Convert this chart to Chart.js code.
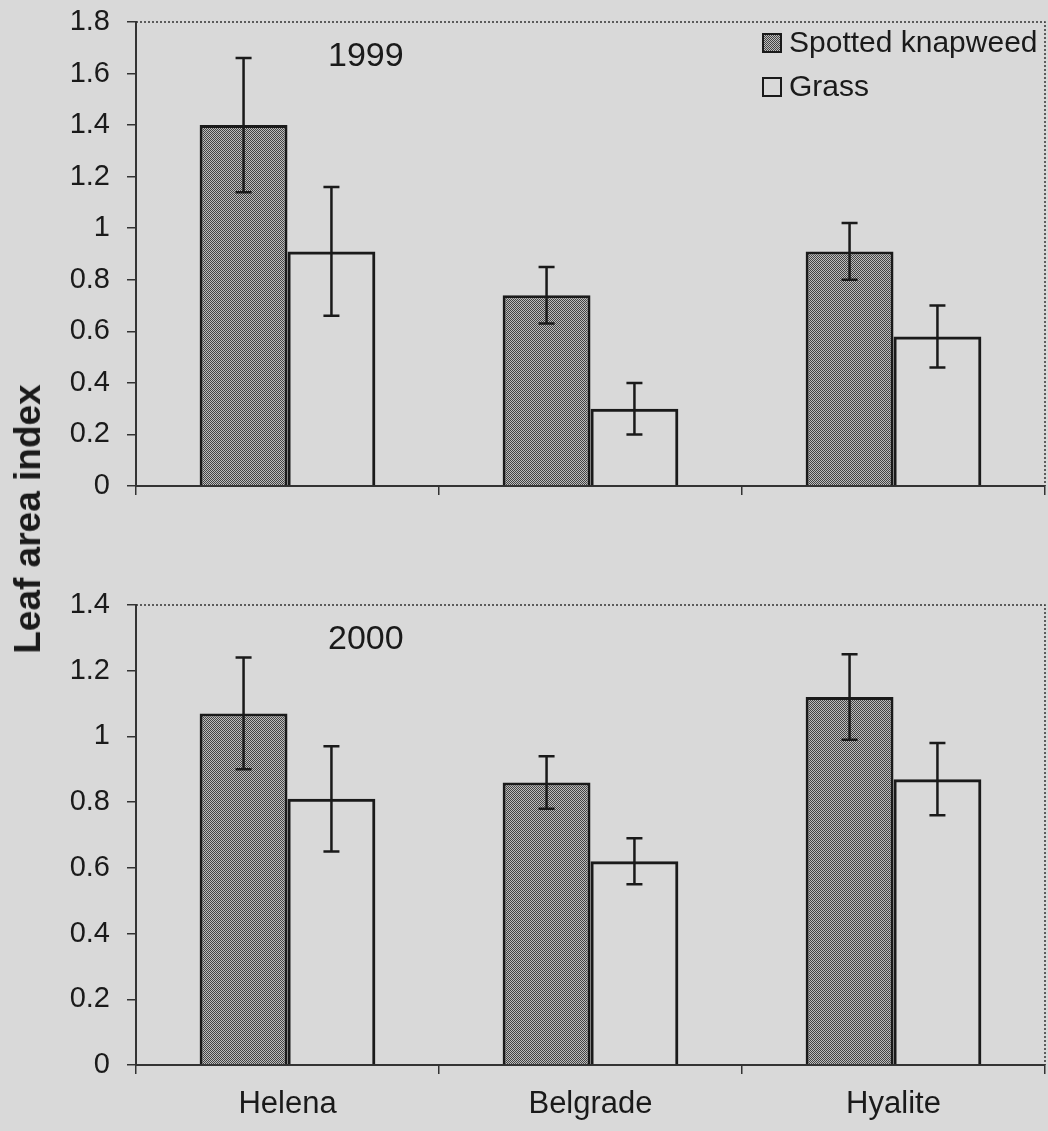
<!DOCTYPE html>
<html>
<head>
<meta charset="utf-8">
<script src="https://cdn.jsdelivr.net/npm/chart.js@4.4.1/dist/chart.umd.min.js"></script>
<style>
  body { margin: 0; background: #d9d9d9; }
  #wrap { position: relative; width: 1048px; height: 1131px; overflow: hidden; }
  #top-panel { position: absolute; left: 0; top: 0; }
  #bottom-panel { position: absolute; left: 0; top: 540px; }
  #y-title {
    position: absolute; left: 28px; top: 519px;
    transform: translate(-50%, -50%) rotate(-90deg);
    font: bold 37px "Liberation Sans", Arial, sans-serif;
    color: #1a1a1a; white-space: nowrap;
  }
</style>
</head>
<body>
<div id="wrap">
  <canvas id="top-panel" width="1048" height="520"></canvas>
  <canvas id="bottom-panel" width="1048" height="591"></canvas>
  <div id="y-title">Leaf area index</div>
</div>
<script>
// --------------- data --------------- //
const sites = ['Helena', 'Belgrade', 'Hyalite'];

// 1999
const knapweed1999 = [1.40, 0.74, 0.91];
const knapweed1999Err = [0.26, 0.11, 0.11];
const grass1999 = [0.91, 0.30, 0.58];
const grass1999Err = [0.25, 0.10, 0.12];

// 2000
const knapweed2000 = [1.07, 0.86, 1.12];
const knapweed2000Err = [0.17, 0.08, 0.13];
const grass2000 = [0.81, 0.62, 0.87];
const grass2000Err = [0.16, 0.07, 0.11];

const ink = '#1a1a1a';
Chart.defaults.font.family = '"Liberation Sans", Arial, sans-serif';
Chart.defaults.color = ink;

// stippled fill like the printed knapweed bars
function makeStipple() {
  const c = document.createElement('canvas');
  c.width = 2;
  c.height = 2;
  const g = c.getContext('2d');
  g.fillStyle = '#bdbdbd';
  g.fillRect(0, 0, 2, 2);
  g.fillStyle = '#444';
  g.fillRect(0, 0, 1, 1);
  g.fillRect(1, 1, 1, 1);
  return g.createPattern(c, 'repeat');
}
const stipple = makeStipple();

// --------------- plugins --------------- //
const errorBars = {
  id: 'errorBars',
  afterDatasetsDraw(chart, args, opts) {
    const ctx = chart.ctx;
    const yScale = chart.scales.y;
    ctx.save();
    ctx.strokeStyle = ink;
    ctx.lineWidth = 2.5;
    chart.data.datasets.forEach((ds, i) => {
      const meta = chart.getDatasetMeta(i);
      meta.data.forEach((bar, j) => {
        const v = ds.data[j];
        const e = ds.errors[j];
        const yHi = yScale.getPixelForValue(v + e);
        const yLo = yScale.getPixelForValue(v - e);
        ctx.beginPath();
        ctx.moveTo(bar.x, yHi);
        ctx.lineTo(bar.x, yLo);
        ctx.moveTo(bar.x - 8, yHi);
        ctx.lineTo(bar.x + 8, yHi);
        ctx.moveTo(bar.x - 8, yLo);
        ctx.lineTo(bar.x + 8, yLo);
        ctx.stroke();
      });
    });
    ctx.restore();
  }
};

const frameAndLabels = {
  id: 'frameAndLabels',
  afterDraw(chart, args, opts) {
    const ctx = chart.ctx;
    const a = chart.chartArea;
    ctx.save();
    // dotted top and right frame
    ctx.strokeStyle = '#333';
    ctx.lineWidth = 1.5;
    ctx.setLineDash([2, 2]);
    ctx.beginPath();
    ctx.moveTo(a.left, a.top);
    ctx.lineTo(a.right, a.top);
    ctx.lineTo(a.right, a.bottom);
    ctx.stroke();
    ctx.setLineDash([]);

    // year label
    ctx.fillStyle = ink;
    ctx.font = '34px "Liberation Sans", Arial, sans-serif';
    ctx.textBaseline = 'alphabetic';
    ctx.textAlign = 'left';
    ctx.fillText(opts.year, a.left + 192, a.top + 44);

    // legend
    if (opts.legend) {
      const items = [
        { text: 'Spotted knapweed', fill: stipple },
        { text: 'Grass', fill: 'rgba(0,0,0,0)' }
      ];
      ctx.font = '30px "Liberation Sans", Arial, sans-serif';
      ctx.textBaseline = 'middle';
      items.forEach((it, k) => {
        const cy = a.top + 21 + k * 44;
        ctx.fillStyle = it.fill;
        ctx.fillRect(763, cy - 9, 18, 18);
        ctx.strokeStyle = ink;
        ctx.lineWidth = 2;
        ctx.strokeRect(763, cy - 9, 18, 18);
        ctx.fillStyle = ink;
        ctx.fillText(it.text, 789, cy + 1);
      });
    }
    ctx.restore();
  }
};

// --------------- chart builder --------------- //
function panelConfig(knap, knapErr, grass, grassErr, yMax, year, showLabels, legend, padTop, xHeight) {
  return {
    type: 'bar',
    data: {
      labels: sites,
      datasets: [{
        label: 'Spotted knapweed',
        data: knap,
        errors: knapErr,
        backgroundColor: stipple,
        borderColor: ink,
        borderWidth: 3,
      }, {
        label: 'Grass',
        data: grass,
        errors: grassErr,
        backgroundColor: 'rgba(0,0,0,0)',
        borderColor: ink,
        borderWidth: 3,
      }]
    },
    plugins: [errorBars, frameAndLabels],
    options: {
      responsive: false,
      animation: false,
      layout: { padding: { top: padTop, right: 3, left: 0, bottom: 0 } },
      datasets: {
        bar: { categoryPercentage: 0.58, barPercentage: 1.0 }
      },
      plugins: {
        legend: { display: false },
        tooltip: { enabled: false },
        frameAndLabels: { year: year, legend: legend }
      },
      scales: {
        x: {
          grid: { drawOnChartArea: false, drawTicks: true, tickLength: 9, color: '#333', lineWidth: 1.5, offset: true },
          border: { display: true, color: '#333', width: 2 },
          ticks: { display: showLabels, font: { size: 31 }, padding: 12, color: ink },
          afterFit(scale) { scale.height = xHeight; }
        },
        y: {
          min: 0,
          max: yMax,
          ticks: {
            stepSize: 0.2,
            font: { size: 29 },
            padding: 17,
            color: ink,
            callback: (v) => String(Number(v.toFixed(1)))
          },
          grid: { drawOnChartArea: false, drawTicks: true, tickLength: 9, color: '#333', lineWidth: 1.5 },
          border: { display: true, color: '#333', width: 2 },
          afterFit(scale) {
            scale.width = 136;
            scale.paddingTop = 0;
            scale.paddingBottom = 0;
          }
        }
      }
    }
  };
}

const topChart = new Chart(
  document.getElementById('top-panel'),
  panelConfig(knapweed1999, knapweed1999Err, grass1999, grass1999Err, 1.8, '1999', false, true, 22, 34)
);

const bottomChart = new Chart(
  document.getElementById('bottom-panel'),
  panelConfig(knapweed2000, knapweed2000Err, grass2000, grass2000Err, 1.4, '2000', true, false, 65, 66)
);
</script>
</body>
</html>
